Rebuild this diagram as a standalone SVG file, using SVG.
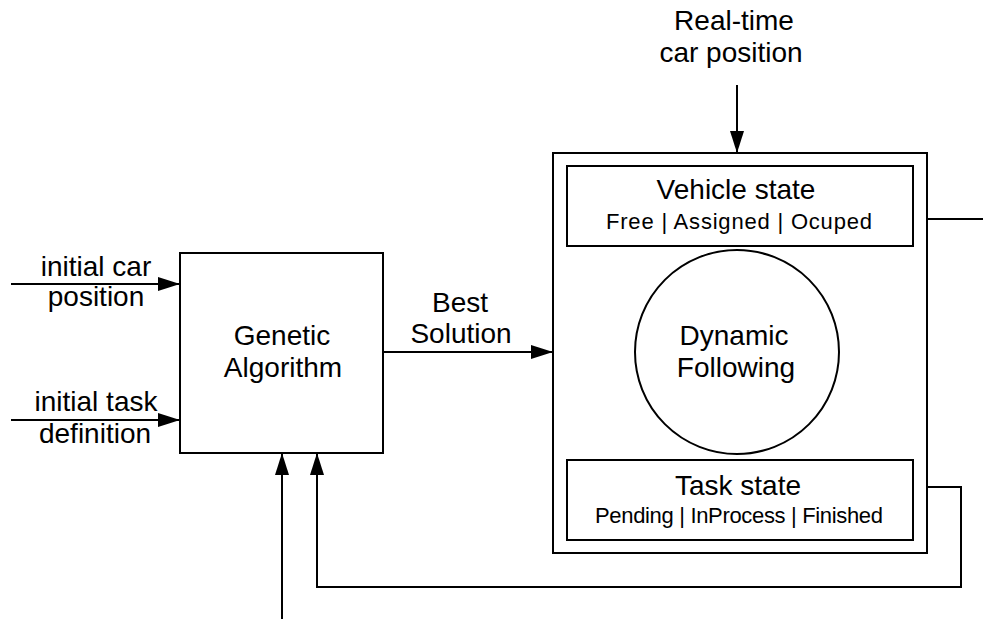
<svg xmlns="http://www.w3.org/2000/svg" width="983" height="619" viewBox="0 0 983 619">
<style>
.box{fill:#fff;stroke:#000;stroke-width:2}
.ln{fill:none;stroke:#000;stroke-width:2}
.t{font-family:"Liberation Sans",Arial,sans-serif;font-size:28px;fill:#000;text-anchor:middle}
.s{font-family:"Liberation Sans",Arial,sans-serif;font-size:22px;fill:#000;text-anchor:middle}
</style>
<defs>
<marker id="arr" markerUnits="userSpaceOnUse" markerWidth="22" markerHeight="14" refX="22" refY="7" orient="auto">
<path d="M0,0 L22,7 L0,14 z" fill="#000"/>
</marker>
</defs>
<rect width="983" height="619" fill="#fff"/>
<g id="connectors">
<path class="ln" d="M11,284 H180" marker-end="url(#arr)"/>
<path class="ln" d="M11,420 H180" marker-end="url(#arr)"/>
<path class="ln" d="M383,352 H553" marker-end="url(#arr)"/>
<path class="ln" d="M737,85 V153" marker-end="url(#arr)"/>
<path class="ln" d="M913,219 H983"/>
<path class="ln" d="M913,487 H961 V587 H317 V453" marker-end="url(#arr)"/>
<path class="ln" d="M282,619 V453" marker-end="url(#arr)"/>
</g>
<g id="labels">
<text class="t" x="96" y="276">initial car</text>
<text class="t" x="96" y="306">position</text>
<text class="t" x="96" y="411">initial task</text>
<text class="t" x="95" y="443">definition</text>
<text class="t" x="460" y="312">Best</text>
<text class="t" x="461" y="343">Solution</text>
<text class="t" x="734" y="30">Real-time</text>
<text class="t" x="731" y="62">car position</text>
</g>
<g id="genetic">
<rect class="box" x="180" y="253" width="203" height="200"/>
<text class="t" x="282" y="345">Genetic</text>
<text class="t" x="283" y="377">Algorithm</text>
</g>
<g id="container">
<rect class="box" x="553" y="153" width="374" height="400"/>
</g>
<g id="vehicle">
<rect class="box" x="567" y="166" width="346" height="80"/>
<text class="t" x="736" y="199">Vehicle state</text>
<text class="s" x="739" y="229" textLength="266" lengthAdjust="spacing">Free | Assigned | Ocuped</text>
</g>
<g id="dynamic">
<circle class="box" cx="737" cy="352" r="102"/>
<text class="t" x="734" y="345">Dynamic</text>
<text class="t" x="736" y="377">Following</text>
</g>
<g id="task">
<rect class="box" x="567" y="460" width="346" height="80"/>
<text class="t" x="738" y="495">Task state</text>
<text class="s" x="739" y="523" textLength="288" lengthAdjust="spacing">Pending | InProcess | Finished</text>
</g>
</svg>
